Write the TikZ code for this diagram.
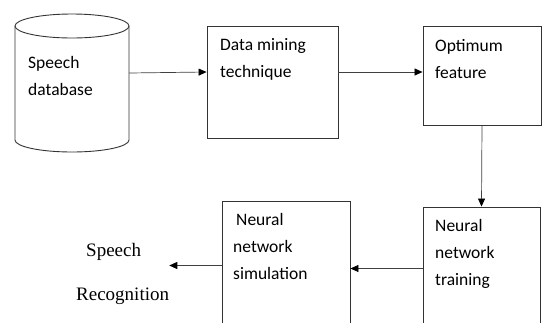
\documentclass[tikz,border=0pt]{standalone}
\usepackage{fontspec}
\setmainfont{Carlito}
\newfontfamily\serifrm{Liberation Serif}
\usetikzlibrary{shapes,arrows}
\usetikzlibrary{arrows.meta}
\tikzstyle{block} = [rectangle, draw=black!80, line width=0.9pt, fill=white]
\tikzstyle{txt} = [anchor=base west, align=left, inner sep=0pt,
    font=\fontsize{17.5}{27}\selectfont]
\tikzstyle{line} = [draw=black!75, line width=0.7pt,
    -{Triangle[length=8pt,width=7pt,color=black]}]

\begin{document}
\begin{tikzpicture}[x=1pt, y=-1pt]
      \clip (0,0) rectangle (542,322);
      \useasboundingbox (0,0) rectangle (542,322);
      % database cylinder
      \node [minimum width=114pt, minimum height=138pt] (db) at (72, 83) {};
      \draw [black!80, line width=0.9pt] (72, 26) ellipse [x radius=57, y radius=12];
      \draw [black!80, line width=0.9pt] (15, 26) -- (15, 140)
          arc [start angle=180, end angle=0, x radius=57, y radius=12] -- (129, 26);
      \node [txt] at (28, 95) {Speech\\database};
      % blocks
      \node [block, minimum width=131pt, minimum height=112pt] (dm) at (272.5, 82) {};
      \node [block, minimum width=118pt, minimum height=99pt] (opt) at (482, 75.5) {};
      \node [block, minimum width=117pt, minimum height=123pt] (tr) at (481.5, 268.5) {};
      \node [block, minimum width=128pt, minimum height=129pt] (sim) at (286, 265.5) {};
      \node [txt] at (220, 77) {Data mining\\technique};
      \node [txt] at (435, 78) {Optimum\\feature};
      \node [txt] at (435, 285) {Neural\\network\\training};
      \node [txt] at (233, 279) {\hspace{3pt}Neural\\network\\simulation};
      \node [anchor=base west, align=left, inner sep=0pt,
          font=\serifrm\fontsize{19}{44}\selectfont] (sr) at (76, 300)
          {\hspace{10pt}Speech\\Recognition};
      % connectors
      \path [line] ([yshift=10pt]db.east) -- ([yshift=10pt]dm.west);
      \path [line] ([yshift=10pt]dm.east) -- ([yshift=10pt]dm.east -| opt.west);
      \path [line] (opt.south) -- (tr.north);
      \path [line] (tr.west) -- (tr.west -| sim.east);
      \path [line] (sim.west) -- (sim.west -| sr.east);
  \end{tikzpicture}
\end{document}
